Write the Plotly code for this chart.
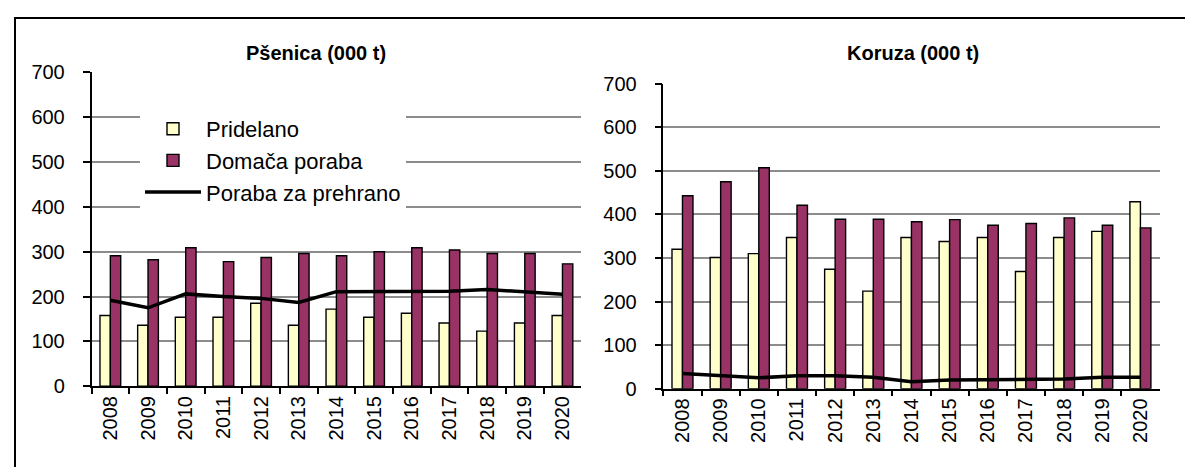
import plotly.graph_objects as go

years = [str(y) for y in range(2008, 2021)]

# Pšenica (000 t)
psenica_pridelano = [158, 136, 154, 154, 185, 136, 172, 154, 163, 141, 123, 141, 158]
psenica_domaca = [291, 282, 309, 278, 287, 296, 291, 300, 309, 304, 296, 296, 273]
psenica_prehrana = [192, 175, 206, 200, 196, 187, 211, 211, 211, 212, 216, 211, 205]

# Koruza (000 t)
koruza_pridelano = [320, 301, 310, 347, 274, 224, 347, 338, 347, 269, 347, 361, 429]
koruza_domaca = [443, 475, 507, 421, 389, 389, 383, 388, 375, 379, 392, 375, 369]
koruza_prehrana = [35, 30, 25, 30, 30, 26, 16, 20, 21, 21, 22, 26, 26]

yTicks = [0, 100, 200, 300, 400, 500, 600, 700]

yellow = '#FFFFCC'
purple = '#993366'
gridColor = '#8c8c8c'
fontFamily = 'Arial, Liberation Sans, sans-serif'
W, H = 1193, 467

fig = go.Figure()

panels = [
    ('x', 'y', psenica_pridelano, psenica_domaca, psenica_prehrana, True),
    ('x2', 'y2', koruza_pridelano, koruza_domaca, koruza_prehrana, False),
]
for xa, ya, prid, dom, preh, show in panels:
    fig.add_trace(go.Bar(x=years, y=prid, name='Pridelano', xaxis=xa, yaxis=ya,
                         marker=dict(color=yellow, line=dict(color='black', width=1.4)),
                         showlegend=show, offsetgroup='a'))
    fig.add_trace(go.Bar(x=years, y=dom, name='Domača poraba', xaxis=xa, yaxis=ya,
                         marker=dict(color=purple, line=dict(color='black', width=1.4)),
                         showlegend=show, offsetgroup='b'))
    fig.add_trace(go.Scatter(x=years, y=preh, name='Poraba za prehrano', xaxis=xa, yaxis=ya,
                             mode='lines', line=dict(color='black', width=3.5),
                             showlegend=show))

xaxis_common = dict(
    type='category', showline=True, linecolor='black', linewidth=1.5,
    ticks='outside', tickson='boundaries', ticklen=6, tickcolor='black', tickwidth=1.5,
    tickangle=-90, showgrid=False, automargin=False,
    tickfont=dict(size=20, color='black', family=fontFamily),
)
yaxis_common = dict(
    range=[0, 700], tickvals=yTicks, showline=True, linecolor='black', linewidth=1.5,
    ticks='outside', ticklen=7, tickcolor='black', tickwidth=1.5,
    showgrid=True, gridcolor=gridColor, gridwidth=1.6, zeroline=False, automargin=False,
    tickfont=dict(size=20, color='black', family=fontFamily), ticklabelstandoff=14,
)

fig.update_layout(
    width=W, height=H,
    margin=dict(l=0, r=0, t=0, b=0),
    paper_bgcolor='white', plot_bgcolor='white',
    barmode='group', bargap=0.45, bargroupgap=0,
    font=dict(family=fontFamily, color='black'),
    xaxis=dict(domain=[83.5 / W, 573.3 / W], anchor='y', **xaxis_common),
    yaxis=dict(domain=[1 - 378.3 / H, 1 - 64.3 / H], anchor='x', **yaxis_common),
    xaxis2=dict(domain=[655.4 / W, 1151.5 / W], anchor='y2', **xaxis_common),
    yaxis2=dict(domain=[1 - 380.7 / H, 1 - 75.7 / H], anchor='x2', **yaxis_common),
    legend=dict(x=132 / W, y=1 - 100 / H, xanchor='left', yanchor='top',
                bgcolor='white', font=dict(size=22, family=fontFamily, color='black'),
                itemwidth=56, tracegroupgap=0, traceorder='normal'),
    showlegend=True,
)

fig.add_annotation(text='<b>Pšenica (000 t)</b>', x=307.7 / W, y=1 - 45 / H, xref='paper', yref='paper',
                   xanchor='center', yanchor='middle', showarrow=False,
                   font=dict(size=20, family=fontFamily, color='black'))
fig.add_annotation(text='<b>Koruza (000 t)</b>', x=905 / W, y=1 - 45 / H, xref='paper', yref='paper',
                   xanchor='center', yanchor='middle', showarrow=False,
                   font=dict(size=20, family=fontFamily, color='black'))

# outer frame of the figure
fig.add_shape(type='rect', xref='paper', yref='paper', x0=7 / W, x1=1.02, y0=-0.02, y1=1 - 10 / H,
              line=dict(color='black', width=2))

fig.write_html("out.html")
